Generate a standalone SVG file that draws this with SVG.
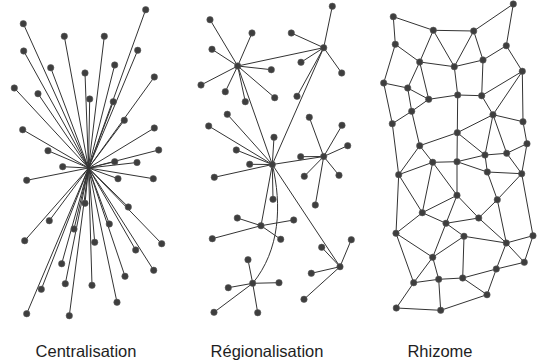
<svg xmlns="http://www.w3.org/2000/svg" width="544" height="363" viewBox="0 0 544 363">
<style>
.e line,.e path{stroke:#333;stroke-width:1;fill:none}
.n circle{fill:#3e3e3e;stroke:#5c5c5c;stroke-width:.6}
.t{font-family:"Liberation Sans",Arial,sans-serif;font-size:16.5px;fill:#1e1e1e;text-anchor:middle}
</style>
<rect width="544" height="363" fill="#fff"/>
<g id="connectors" class="e">
<g id="central-edges">
<line x1="145.7" y1="9.7" x2="88.5" y2="168"/><line x1="23.3" y1="23.7" x2="88.5" y2="168"/><line x1="64.3" y1="36.3" x2="88.5" y2="168"/><line x1="104.3" y1="36.3" x2="88.5" y2="168"/><line x1="23.7" y1="51" x2="88.5" y2="168"/><line x1="137.7" y1="50.3" x2="88.5" y2="168"/><line x1="50.7" y1="67.7" x2="88.5" y2="168"/><line x1="114.7" y1="65" x2="88.5" y2="168"/><line x1="85" y1="73" x2="88.5" y2="168"/><line x1="154.3" y1="77" x2="88.5" y2="168"/><line x1="14.3" y1="88" x2="88.5" y2="168"/><line x1="38" y1="93.7" x2="88.5" y2="168"/><line x1="89.7" y1="99" x2="88.5" y2="168"/><line x1="113.3" y1="101.7" x2="88.5" y2="168"/><line x1="124.3" y1="120.3" x2="88.5" y2="168"/><line x1="22.7" y1="129.7" x2="88.5" y2="168"/><line x1="154.3" y1="128" x2="88.5" y2="168"/><line x1="48" y1="150.7" x2="88.5" y2="168"/><line x1="158.7" y1="150" x2="88.5" y2="168"/><line x1="114.7" y1="161.7" x2="88.5" y2="168"/><line x1="137" y1="162.5" x2="88.5" y2="168"/><line x1="62.7" y1="166.7" x2="88.5" y2="168"/><line x1="26.7" y1="180.3" x2="88.5" y2="168"/><line x1="118" y1="178.7" x2="88.5" y2="168"/><line x1="153.3" y1="178.7" x2="88.5" y2="168"/><line x1="85" y1="203.3" x2="88.5" y2="168"/><line x1="128.3" y1="207" x2="88.5" y2="168"/><line x1="49.3" y1="220.7" x2="88.5" y2="168"/><line x1="109.3" y1="224" x2="88.5" y2="168"/><line x1="74" y1="229" x2="88.5" y2="168"/><line x1="24.7" y1="240.7" x2="88.5" y2="168"/><line x1="94.7" y1="242.3" x2="88.5" y2="168"/><line x1="161.7" y1="243.7" x2="88.5" y2="168"/><line x1="135.7" y1="250" x2="88.5" y2="168"/><line x1="61.7" y1="263.7" x2="88.5" y2="168"/><line x1="153.7" y1="270.3" x2="88.5" y2="168"/><line x1="125" y1="276.3" x2="88.5" y2="168"/><line x1="65.3" y1="283.7" x2="88.5" y2="168"/><line x1="92" y1="285.3" x2="88.5" y2="168"/><line x1="41.3" y1="289.3" x2="88.5" y2="168"/><line x1="117" y1="302.3" x2="88.5" y2="168"/><line x1="26.7" y1="313.7" x2="88.5" y2="168"/><line x1="69.3" y1="315.7" x2="88.5" y2="168"/>
</g>
<g id="regional-edges">
<line x1="237.7" y1="66" x2="323.7" y2="47.7"/><line x1="237.7" y1="66" x2="272.3" y2="164.5"/><line x1="323.7" y1="47.7" x2="272.3" y2="164.5"/><line x1="272.3" y1="164.5" x2="323.7" y2="156.5"/><line x1="272.3" y1="164.5" x2="261" y2="225.7"/><line x1="272.3" y1="164.5" x2="340" y2="266.7"/><path d="M272.3 164.5C282 205 280 250 252.7 283.3"/>
<line x1="237.7" y1="66" x2="210" y2="19.7"/><line x1="237.7" y1="66" x2="252" y2="33"/><line x1="237.7" y1="66" x2="212" y2="49.3"/><line x1="237.7" y1="66" x2="271.3" y2="69.7"/><line x1="237.7" y1="66" x2="201" y2="85"/><line x1="237.7" y1="66" x2="225.3" y2="91.7"/><line x1="237.7" y1="66" x2="245.3" y2="101.7"/><line x1="237.7" y1="66" x2="274.7" y2="97.7"/>
<line x1="323.7" y1="47.7" x2="332.3" y2="6.3"/><line x1="323.7" y1="47.7" x2="291.3" y2="33"/><line x1="323.7" y1="47.7" x2="301" y2="62.3"/><line x1="323.7" y1="47.7" x2="341.7" y2="73"/><line x1="323.7" y1="47.7" x2="297" y2="96.3"/>
<line x1="272.3" y1="164.5" x2="227.3" y2="114.3"/><line x1="272.3" y1="164.5" x2="208.7" y2="126"/><line x1="272.3" y1="164.5" x2="274" y2="137.3"/><line x1="272.3" y1="164.5" x2="236.3" y2="150"/><line x1="272.3" y1="164.5" x2="249.7" y2="164.3"/><line x1="272.3" y1="164.5" x2="214.3" y2="177.3"/><line x1="272.3" y1="164.5" x2="273" y2="199.3"/>
<line x1="323.7" y1="156.5" x2="309.3" y2="117.3"/><line x1="323.7" y1="156.5" x2="342" y2="125.3"/><line x1="323.7" y1="156.5" x2="347.7" y2="145.7"/><line x1="323.7" y1="156.5" x2="300.7" y2="156.7"/><line x1="323.7" y1="156.5" x2="304.3" y2="176.3"/><line x1="323.7" y1="156.5" x2="339" y2="175.3"/><line x1="323.7" y1="156.5" x2="315.3" y2="205"/>
<line x1="261" y1="225.7" x2="237.3" y2="218"/><line x1="261" y1="225.7" x2="293.7" y2="220"/><line x1="261" y1="225.7" x2="212.3" y2="238.7"/><line x1="261" y1="225.7" x2="280.7" y2="239.3"/>
<line x1="252.7" y1="283.3" x2="248" y2="259.7"/><line x1="252.7" y1="283.3" x2="279" y2="282.7"/><line x1="252.7" y1="283.3" x2="228.3" y2="287.7"/><line x1="252.7" y1="283.3" x2="214" y2="312.3"/><line x1="252.7" y1="283.3" x2="257.7" y2="312.7"/>
<line x1="340" y1="266.7" x2="351.3" y2="239.7"/><line x1="340" y1="266.7" x2="321.7" y2="247.3"/><line x1="340" y1="266.7" x2="311.3" y2="273.3"/><line x1="340" y1="266.7" x2="304" y2="299.3"/>
</g>
<g id="rhizome-edges">
<line x1="393.3" y1="16.7" x2="433.3" y2="30.3"/><line x1="393.3" y1="16.7" x2="395.3" y2="44.3"/><line x1="433.3" y1="30.3" x2="473.7" y2="31"/><line x1="473.7" y1="31" x2="513.3" y2="4"/><line x1="513.3" y1="4" x2="506.3" y2="45.7"/><line x1="433.3" y1="30.3" x2="419.7" y2="62"/><line x1="433.3" y1="30.3" x2="454.3" y2="66.7"/><line x1="473.7" y1="31" x2="454.3" y2="66.7"/><line x1="473.7" y1="31" x2="483" y2="60"/><line x1="395.3" y1="44.3" x2="419.7" y2="62"/><line x1="395.3" y1="44.3" x2="383.7" y2="83"/><line x1="506.3" y1="45.7" x2="483" y2="60"/><line x1="506.3" y1="45.7" x2="522.3" y2="71.3"/><line x1="419.7" y1="62" x2="454.3" y2="66.7"/><line x1="454.3" y1="66.7" x2="483" y2="60"/><line x1="419.7" y1="62" x2="407.7" y2="88"/><line x1="419.7" y1="62" x2="428.7" y2="99.3"/><line x1="383.7" y1="83" x2="407.7" y2="88"/><line x1="407.7" y1="88" x2="428.7" y2="99.3"/><line x1="407.7" y1="88" x2="411.7" y2="111.3"/><line x1="454.3" y1="66.7" x2="457.7" y2="95"/><line x1="483" y1="60" x2="481.7" y2="95.7"/><line x1="428.7" y1="99.3" x2="457.7" y2="95"/><line x1="457.7" y1="95" x2="481.7" y2="95.7"/><line x1="522.3" y1="71.3" x2="481.7" y2="95.7"/><line x1="522.3" y1="71.3" x2="493" y2="114.7"/><line x1="522.3" y1="71.3" x2="523" y2="121.7"/><line x1="428.7" y1="99.3" x2="411.7" y2="111.3"/><line x1="383.7" y1="83" x2="392.3" y2="123.7"/><line x1="411.7" y1="111.3" x2="392.3" y2="123.7"/><line x1="411.7" y1="111.3" x2="419.7" y2="145.7"/><line x1="457.7" y1="95" x2="457.3" y2="132.7"/><line x1="481.7" y1="95.7" x2="493" y2="114.7"/><line x1="493" y1="114.7" x2="523" y2="121.7"/><line x1="493" y1="114.7" x2="457.3" y2="132.7"/><line x1="457.3" y1="132.7" x2="419.7" y2="145.7"/><line x1="457.3" y1="132.7" x2="485" y2="155"/><line x1="493" y1="114.7" x2="485" y2="155"/><line x1="493" y1="114.7" x2="506.7" y2="153.3"/><line x1="523" y1="121.7" x2="527" y2="143.7"/><line x1="527" y1="143.7" x2="506.7" y2="153.3"/><line x1="485" y1="155" x2="506.7" y2="153.3"/><line x1="457.3" y1="132.7" x2="457" y2="161.7"/><line x1="419.7" y1="145.7" x2="432.7" y2="162.3"/><line x1="485" y1="155" x2="457" y2="161.7"/><line x1="432.7" y1="162.3" x2="457" y2="161.7"/><line x1="392.3" y1="123.7" x2="398.7" y2="174.7"/><line x1="419.7" y1="145.7" x2="398.7" y2="174.7"/><line x1="485" y1="155" x2="487.3" y2="172"/><line x1="506.7" y1="153.3" x2="521.7" y2="173.7"/><line x1="527" y1="143.7" x2="521.7" y2="173.7"/>
<line x1="398.7" y1="174.7" x2="432.7" y2="162.3"/><line x1="457" y1="161.7" x2="487.3" y2="172"/><line x1="487.3" y1="172" x2="521.7" y2="173.7"/><line x1="398.7" y1="174.7" x2="396" y2="233.3"/><line x1="398.7" y1="174.7" x2="422.3" y2="212.7"/><line x1="432.7" y1="162.3" x2="422.3" y2="212.7"/><line x1="432.7" y1="162.3" x2="457" y2="195.3"/><line x1="457" y1="161.7" x2="457" y2="195.3"/><line x1="487.3" y1="172" x2="497.3" y2="199.7"/><line x1="521.7" y1="173.7" x2="497.3" y2="199.7"/><line x1="521.7" y1="173.7" x2="533" y2="235.7"/><line x1="457" y1="195.3" x2="422.3" y2="212.7"/><line x1="457" y1="195.3" x2="446" y2="223.3"/><line x1="457" y1="195.3" x2="478.7" y2="218"/><line x1="497.3" y1="199.7" x2="478.7" y2="218"/><line x1="497.3" y1="199.7" x2="506.3" y2="243"/><line x1="422.3" y1="212.7" x2="446" y2="223.3"/><line x1="422.3" y1="212.7" x2="396" y2="233.3"/><line x1="446" y1="223.3" x2="478.7" y2="218"/><line x1="446" y1="223.3" x2="464" y2="236.3"/><line x1="446" y1="223.3" x2="432.7" y2="257.3"/><line x1="478.7" y1="218" x2="506.3" y2="243"/><line x1="464" y1="236.3" x2="506.3" y2="243"/><line x1="533" y1="235.7" x2="506.3" y2="243"/><line x1="533" y1="235.7" x2="524.3" y2="262.3"/><line x1="506.3" y1="243" x2="524.3" y2="262.3"/><line x1="506.3" y1="243" x2="496.3" y2="269"/><line x1="396" y1="233.3" x2="432.7" y2="257.3"/><line x1="396" y1="233.3" x2="413.7" y2="282.7"/><line x1="464" y1="236.3" x2="432.7" y2="257.3"/><line x1="464" y1="236.3" x2="462.7" y2="278"/><line x1="432.7" y1="257.3" x2="413.7" y2="282.7"/><line x1="432.7" y1="257.3" x2="438.7" y2="279.3"/><line x1="413.7" y1="282.7" x2="438.7" y2="279.3"/><line x1="438.7" y1="279.3" x2="462.7" y2="278"/><line x1="462.7" y1="278" x2="496.3" y2="269"/><line x1="496.3" y1="269" x2="524.3" y2="262.3"/><line x1="462.7" y1="278" x2="487" y2="294.7"/><line x1="496.3" y1="269" x2="487" y2="294.7"/><line x1="413.7" y1="282.7" x2="396.3" y2="308"/><line x1="396.3" y1="308" x2="440.7" y2="310.3"/><line x1="438.7" y1="279.3" x2="440.7" y2="310.3"/><line x1="440.7" y1="310.3" x2="487" y2="294.7"/>
</g>
</g>
<g id="central-nodes" class="n">
<g id="c1"><circle cx="145.7" cy="9.7" r="3.2"/></g><g id="c2"><circle cx="23.3" cy="23.7" r="3.2"/></g><g id="c3"><circle cx="64.3" cy="36.3" r="3.2"/></g><g id="c4"><circle cx="104.3" cy="36.3" r="3.2"/></g><g id="c5"><circle cx="23.7" cy="51" r="3.2"/></g><g id="c6"><circle cx="137.7" cy="50.3" r="3.2"/></g><g id="c7"><circle cx="50.7" cy="67.7" r="3.2"/></g><g id="c8"><circle cx="114.7" cy="65" r="3.2"/></g><g id="c9"><circle cx="85" cy="73" r="3.2"/></g><g id="c10"><circle cx="154.3" cy="77" r="3.2"/></g><g id="c11"><circle cx="14.3" cy="88" r="3.2"/></g><g id="c12"><circle cx="38" cy="93.7" r="3.2"/></g><g id="c13"><circle cx="89.7" cy="99" r="3.2"/></g><g id="c14"><circle cx="113.3" cy="101.7" r="3.2"/></g><g id="c15"><circle cx="124.3" cy="120.3" r="3.2"/></g><g id="c16"><circle cx="22.7" cy="129.7" r="3.2"/></g><g id="c17"><circle cx="154.3" cy="128" r="3.2"/></g><g id="c18"><circle cx="48" cy="150.7" r="3.2"/></g><g id="c19"><circle cx="158.7" cy="150" r="3.2"/></g><g id="c20"><circle cx="114.7" cy="161.7" r="3.2"/></g><g id="c21"><circle cx="137" cy="162.5" r="3.2"/></g><g id="c22"><circle cx="62.7" cy="166.7" r="3.2"/></g><g id="c23"><circle cx="26.7" cy="180.3" r="3.2"/></g><g id="c24"><circle cx="118" cy="178.7" r="3.2"/></g><g id="c25"><circle cx="153.3" cy="178.7" r="3.2"/></g><g id="c26"><circle cx="85" cy="203.3" r="3.2"/></g><g id="c27"><circle cx="128.3" cy="207" r="3.2"/></g><g id="c28"><circle cx="49.3" cy="220.7" r="3.2"/></g><g id="c29"><circle cx="109.3" cy="224" r="3.2"/></g><g id="c30"><circle cx="74" cy="229" r="3.2"/></g><g id="c31"><circle cx="24.7" cy="240.7" r="3.2"/></g><g id="c32"><circle cx="94.7" cy="242.3" r="3.2"/></g><g id="c33"><circle cx="161.7" cy="243.7" r="3.2"/></g><g id="c34"><circle cx="135.7" cy="250" r="3.2"/></g><g id="c35"><circle cx="61.7" cy="263.7" r="3.2"/></g><g id="c36"><circle cx="153.7" cy="270.3" r="3.2"/></g><g id="c37"><circle cx="125" cy="276.3" r="3.2"/></g><g id="c38"><circle cx="65.3" cy="283.7" r="3.2"/></g><g id="c39"><circle cx="92" cy="285.3" r="3.2"/></g><g id="c40"><circle cx="41.3" cy="289.3" r="3.2"/></g><g id="c41"><circle cx="117" cy="302.3" r="3.2"/></g><g id="c42"><circle cx="26.7" cy="313.7" r="3.2"/></g><g id="c43"><circle cx="69.3" cy="315.7" r="3.2"/></g>
</g>
<g id="regional-nodes" class="n">
<g id="hubA"><circle cx="237.7" cy="66" r="3.2"/></g><g id="hubB"><circle cx="323.7" cy="47.7" r="3.2"/></g><g id="hubC"><circle cx="272.3" cy="164.5" r="3.2"/></g><g id="hubD"><circle cx="323.7" cy="156.5" r="3.2"/></g><g id="hubE"><circle cx="261" cy="225.7" r="3.2"/></g><g id="hubF"><circle cx="252.7" cy="283.3" r="3.2"/></g><g id="hubG"><circle cx="340" cy="266.7" r="3.2"/></g>
<g id="a1"><circle cx="210" cy="19.7" r="3.2"/></g><g id="a2"><circle cx="252" cy="33" r="3.2"/></g><g id="a3"><circle cx="212" cy="49.3" r="3.2"/></g><g id="a4"><circle cx="271.3" cy="69.7" r="3.2"/></g><g id="a5"><circle cx="201" cy="85" r="3.2"/></g><g id="a6"><circle cx="225.3" cy="91.7" r="3.2"/></g><g id="a7"><circle cx="245.3" cy="101.7" r="3.2"/></g><g id="a8"><circle cx="274.7" cy="97.7" r="3.2"/></g>
<g id="b1"><circle cx="332.3" cy="6.3" r="3.2"/></g><g id="b2"><circle cx="291.3" cy="33" r="3.2"/></g><g id="b3"><circle cx="301" cy="62.3" r="3.2"/></g><g id="b4"><circle cx="341.7" cy="73" r="3.2"/></g><g id="b5"><circle cx="297" cy="96.3" r="3.2"/></g>
<g id="k1"><circle cx="227.3" cy="114.3" r="3.2"/></g><g id="k2"><circle cx="208.7" cy="126" r="3.2"/></g><g id="k3"><circle cx="274" cy="137.3" r="3.2"/></g><g id="k4"><circle cx="236.3" cy="150" r="3.2"/></g><g id="k5"><circle cx="249.7" cy="164.3" r="3.2"/></g><g id="k6"><circle cx="214.3" cy="177.3" r="3.2"/></g><g id="k7"><circle cx="273" cy="199.3" r="3.2"/></g>
<g id="d1"><circle cx="309.3" cy="117.3" r="3.2"/></g><g id="d2"><circle cx="342" cy="125.3" r="3.2"/></g><g id="d3"><circle cx="347.7" cy="145.7" r="3.2"/></g><g id="d4"><circle cx="300.7" cy="156.7" r="3.2"/></g><g id="d5"><circle cx="304.3" cy="176.3" r="3.2"/></g><g id="d6"><circle cx="339" cy="175.3" r="3.2"/></g><g id="d7"><circle cx="315.3" cy="205" r="3.2"/></g>
<g id="e1"><circle cx="237.3" cy="218" r="3.2"/></g><g id="e2"><circle cx="293.7" cy="220" r="3.2"/></g><g id="e3"><circle cx="212.3" cy="238.7" r="3.2"/></g><g id="e4"><circle cx="280.7" cy="239.3" r="3.2"/></g>
<g id="f1"><circle cx="248" cy="259.7" r="3.2"/></g><g id="f2"><circle cx="279" cy="282.7" r="3.2"/></g><g id="f3"><circle cx="228.3" cy="287.7" r="3.2"/></g><g id="f4"><circle cx="214" cy="312.3" r="3.2"/></g><g id="f5"><circle cx="257.7" cy="312.7" r="3.2"/></g>
<g id="g1"><circle cx="351.3" cy="239.7" r="3.2"/></g><g id="g2"><circle cx="321.7" cy="247.3" r="3.2"/></g><g id="g3"><circle cx="311.3" cy="273.3" r="3.2"/></g><g id="g4"><circle cx="304" cy="299.3" r="3.2"/></g>
</g>
<g id="rhizome-nodes" class="n">
<g id="r1"><circle cx="513.3" cy="4" r="3.2"/></g><g id="r2"><circle cx="393.3" cy="16.7" r="3.2"/></g><g id="r3"><circle cx="433.3" cy="30.3" r="3.2"/></g><g id="r4"><circle cx="473.7" cy="31" r="3.2"/></g><g id="r5"><circle cx="395.3" cy="44.3" r="3.2"/></g><g id="r6"><circle cx="506.3" cy="45.7" r="3.2"/></g><g id="r7"><circle cx="419.7" cy="62" r="3.2"/></g><g id="r8"><circle cx="454.3" cy="66.7" r="3.2"/></g><g id="r9"><circle cx="483" cy="60" r="3.2"/></g><g id="r10"><circle cx="522.3" cy="71.3" r="3.2"/></g><g id="r11"><circle cx="383.7" cy="83" r="3.2"/></g><g id="r12"><circle cx="407.7" cy="88" r="3.2"/></g><g id="r13"><circle cx="457.7" cy="95" r="3.2"/></g><g id="r14"><circle cx="481.7" cy="95.7" r="3.2"/></g><g id="r15"><circle cx="428.7" cy="99.3" r="3.2"/></g><g id="r16"><circle cx="411.7" cy="111.3" r="3.2"/></g><g id="r17"><circle cx="493" cy="114.7" r="3.2"/></g><g id="r18"><circle cx="392.3" cy="123.7" r="3.2"/></g><g id="r19"><circle cx="523" cy="121.7" r="3.2"/></g><g id="r20"><circle cx="457.3" cy="132.7" r="3.2"/></g><g id="r21"><circle cx="419.7" cy="145.7" r="3.2"/></g><g id="r22"><circle cx="527" cy="143.7" r="3.2"/></g><g id="r23"><circle cx="485" cy="155" r="3.2"/></g><g id="r24"><circle cx="506.7" cy="153.3" r="3.2"/></g><g id="r25"><circle cx="432.7" cy="162.3" r="3.2"/></g><g id="r26"><circle cx="457" cy="161.7" r="3.2"/></g><g id="r27"><circle cx="398.7" cy="174.7" r="3.2"/></g><g id="r28"><circle cx="487.3" cy="172" r="3.2"/></g><g id="r29"><circle cx="521.7" cy="173.7" r="3.2"/></g><g id="r30"><circle cx="457" cy="195.3" r="3.2"/></g><g id="r31"><circle cx="497.3" cy="199.7" r="3.2"/></g><g id="r32"><circle cx="422.3" cy="212.7" r="3.2"/></g><g id="r33"><circle cx="478.7" cy="218" r="3.2"/></g><g id="r34"><circle cx="446" cy="223.3" r="3.2"/></g><g id="r35"><circle cx="396" cy="233.3" r="3.2"/></g><g id="r36"><circle cx="464" cy="236.3" r="3.2"/></g><g id="r37"><circle cx="533" cy="235.7" r="3.2"/></g><g id="r38"><circle cx="506.3" cy="243" r="3.2"/></g><g id="r39"><circle cx="432.7" cy="257.3" r="3.2"/></g><g id="r40"><circle cx="524.3" cy="262.3" r="3.2"/></g><g id="r41"><circle cx="496.3" cy="269" r="3.2"/></g><g id="r42"><circle cx="462.7" cy="278" r="3.2"/></g><g id="r43"><circle cx="438.7" cy="279.3" r="3.2"/></g><g id="r44"><circle cx="413.7" cy="282.7" r="3.2"/></g><g id="r45"><circle cx="487" cy="294.7" r="3.2"/></g><g id="r46"><circle cx="396.3" cy="308" r="3.2"/></g><g id="r47"><circle cx="440.7" cy="310.3" r="3.2"/></g>
</g>
<g id="labels">
<text class="t" x="86" y="357">Centralisation</text>
<text class="t" x="267" y="357">Régionalisation</text>
<text class="t" x="440" y="357">Rhizome</text>
</g>
</svg>
